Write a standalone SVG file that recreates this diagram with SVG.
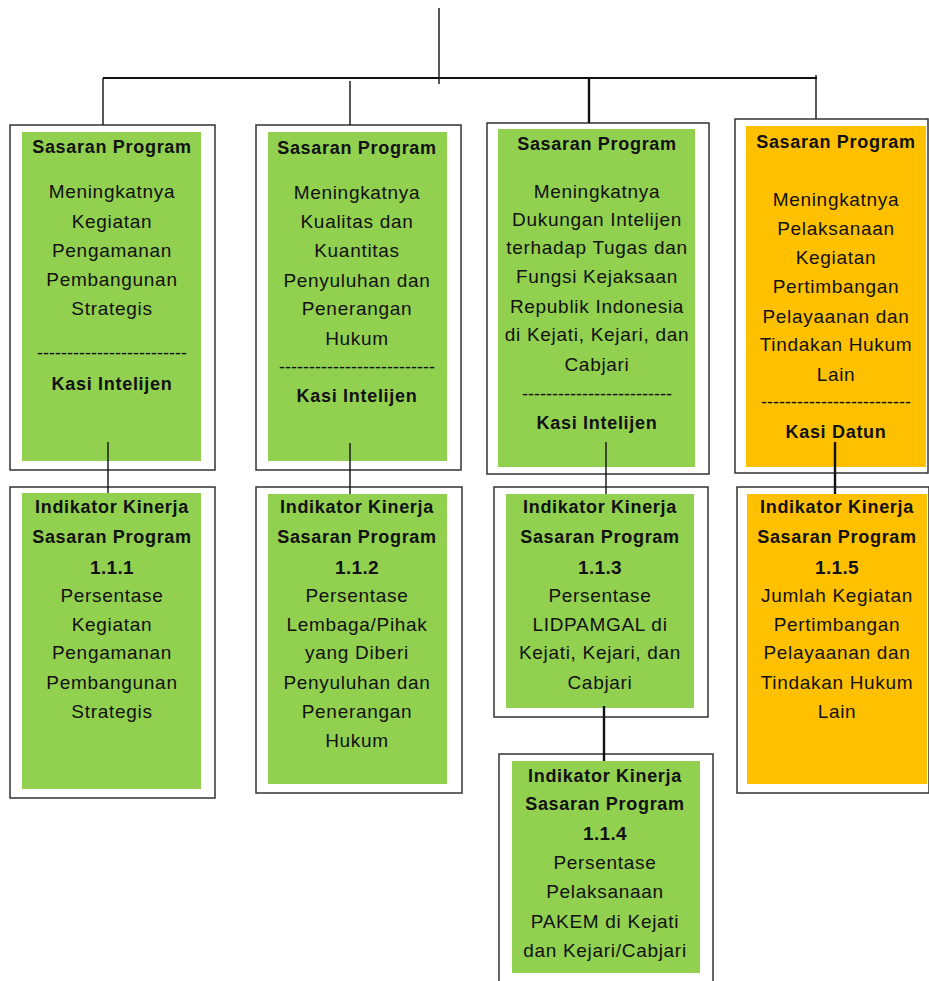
<svg xmlns="http://www.w3.org/2000/svg" width="929" height="981" viewBox="0 0 929 981">
<style>
.frame{fill:#fff;stroke:#333;stroke-width:1.5}
.g{fill:#92D050}
.o{fill:#FFC000}
.t{font-family:"Liberation Sans",Arial,sans-serif;font-size:19px;letter-spacing:0.7px;text-anchor:middle;fill:#111}
.b{font-family:"Liberation Sans",Arial,sans-serif;font-size:18px;font-weight:bold;letter-spacing:0.7px;text-anchor:middle;fill:#111}
.n{font-family:"Liberation Sans",Arial,sans-serif;font-size:19px;font-weight:bold;letter-spacing:0.3px;text-anchor:middle;fill:#111}
.d{font-family:"Liberation Sans",Arial,sans-serif;font-size:18px;letter-spacing:0;text-anchor:middle;fill:#111}
.c{stroke:#111;stroke-width:1.4;fill:none}
.ct{stroke:#111;stroke-width:2.4;fill:none}
</style>
<rect width="929" height="981" fill="#fff"/>

<g id="sp1">
<rect class="frame" x="10" y="125" width="205" height="345"/>
<rect class="g" x="22" y="132" width="179" height="329"/>
<text class="b" x="112" y="153">Sasaran Program</text>
<text class="t" x="112" y="198">Meningkatnya</text>
<text class="t" x="112" y="228">Kegiatan</text>
<text class="t" x="112" y="257">Pengamanan</text>
<text class="t" x="112" y="286">Pembangunan</text>
<text class="t" x="112" y="315">Strategis</text>
<text class="d" x="112" y="359">-------------------------</text>
<text class="b" x="112" y="390">Kasi Intelijen</text>
</g>

<g id="sp2">
<rect class="frame" x="256" y="125" width="205" height="345"/>
<rect class="g" x="268" y="132" width="179" height="329"/>
<text class="b" x="357" y="154">Sasaran Program</text>
<text class="t" x="357" y="199">Meningkatnya</text>
<text class="t" x="357" y="228">Kualitas dan</text>
<text class="t" x="357" y="257">Kuantitas</text>
<text class="t" x="357" y="287">Penyuluhan dan</text>
<text class="t" x="357" y="315">Penerangan</text>
<text class="t" x="357" y="345">Hukum</text>
<text class="d" x="357" y="373">--------------------------</text>
<text class="b" x="357" y="402">Kasi Intelijen</text>
</g>

<g id="sp3">
<rect class="frame" x="487" y="123" width="222" height="351"/>
<rect class="g" x="498" y="129" width="197" height="338"/>
<text class="b" x="597" y="150">Sasaran Program</text>
<text class="t" x="597" y="198">Meningkatnya</text>
<text class="t" x="597" y="226">Dukungan Intelijen</text>
<text class="t" x="597" y="254">terhadap Tugas dan</text>
<text class="t" x="597" y="283">Fungsi Kejaksaan</text>
<text class="t" x="597" y="313">Republik Indonesia</text>
<text class="t" x="597" y="341">di Kejati, Kejari, dan</text>
<text class="t" x="597" y="371">Cabjari</text>
<text class="d" x="597" y="400">-------------------------</text>
<text class="b" x="597" y="429">Kasi Intelijen</text>
</g>

<g id="sp4">
<rect class="frame" x="735" y="119" width="193" height="354"/>
<rect class="o" x="746" y="126" width="180" height="341"/>
<text class="b" x="836" y="148">Sasaran Program</text>
<text class="t" x="836" y="206">Meningkatnya</text>
<text class="t" x="836" y="235">Pelaksanaan</text>
<text class="t" x="836" y="264">Kegiatan</text>
<text class="t" x="836" y="293">Pertimbangan</text>
<text class="t" x="836" y="323">Pelayaanan dan</text>
<text class="t" x="836" y="351">Tindakan Hukum</text>
<text class="t" x="836" y="381">Lain</text>
<text class="d" x="836" y="408">-------------------------</text>
<text class="b" x="836" y="438">Kasi Datun</text>
</g>

<g id="ik111">
<rect class="frame" x="10" y="487" width="205" height="311"/>
<rect class="g" x="22" y="493" width="179" height="296"/>
<text class="b" x="112" y="513">Indikator Kinerja</text>
<text class="b" x="112" y="543">Sasaran Program</text>
<text class="n" x="112" y="574">1.1.1</text>
<text class="t" x="112" y="602">Persentase</text>
<text class="t" x="112" y="631">Kegiatan</text>
<text class="t" x="112" y="659">Pengamanan</text>
<text class="t" x="112" y="689">Pembangunan</text>
<text class="t" x="112" y="718">Strategis</text>
</g>

<g id="ik112">
<rect class="frame" x="256" y="487" width="206" height="306"/>
<rect class="g" x="268" y="494" width="179" height="290"/>
<text class="b" x="357" y="513">Indikator Kinerja</text>
<text class="b" x="357" y="543">Sasaran Program</text>
<text class="n" x="357" y="574">1.1.2</text>
<text class="t" x="357" y="602">Persentase</text>
<text class="t" x="357" y="631">Lembaga/Pihak</text>
<text class="t" x="357" y="659">yang Diberi</text>
<text class="t" x="357" y="689">Penyuluhan dan</text>
<text class="t" x="357" y="718">Penerangan</text>
<text class="t" x="357" y="747">Hukum</text>
</g>

<g id="ik113">
<rect class="frame" x="494" y="487" width="214" height="230"/>
<rect class="g" x="506" y="494" width="188" height="214"/>
<text class="b" x="600" y="513">Indikator Kinerja</text>
<text class="b" x="600" y="543">Sasaran Program</text>
<text class="n" x="600" y="574">1.1.3</text>
<text class="t" x="600" y="602">Persentase</text>
<text class="t" x="600" y="631">LIDPAMGAL di</text>
<text class="t" x="600" y="659">Kejati, Kejari, dan</text>
<text class="t" x="600" y="689">Cabjari</text>
</g>

<g id="ik114">
<rect class="frame" x="499" y="754" width="214" height="240"/>
<rect class="g" x="512" y="761" width="188" height="212"/>
<text class="b" x="605" y="782">Indikator Kinerja</text>
<text class="b" x="605" y="810">Sasaran Program</text>
<text class="n" x="605" y="840">1.1.4</text>
<text class="t" x="605" y="869">Persentase</text>
<text class="t" x="605" y="898">Pelaksanaan</text>
<text class="t" x="605" y="928">PAKEM di Kejati</text>
<text class="t" x="605" y="957">dan Kejari/Cabjari</text>
</g>

<g id="ik115">
<rect class="frame" x="737" y="487" width="192" height="306"/>
<rect class="o" x="747" y="494" width="180" height="290"/>
<text class="b" x="837" y="513">Indikator Kinerja</text>
<text class="b" x="837" y="543">Sasaran Program</text>
<text class="n" x="837" y="574">1.1.5</text>
<text class="t" x="837" y="602">Jumlah Kegiatan</text>
<text class="t" x="837" y="631">Pertimbangan</text>
<text class="t" x="837" y="659">Pelayaanan dan</text>
<text class="t" x="837" y="689">Tindakan Hukum</text>
<text class="t" x="837" y="718">Lain</text>
</g>

<g id="connectors">
<line class="c" x1="439" y1="8" x2="439" y2="84"/>
<line class="c" x1="103" y1="78" x2="817" y2="78" style="stroke-width:2"/>
<line class="c" x1="103" y1="78" x2="103" y2="125"/>
<line class="c" x1="350" y1="81" x2="350" y2="125"/>
<line class="ct" x1="589" y1="77" x2="589" y2="123"/>
<line class="c" x1="816" y1="75" x2="816" y2="119"/>
<line class="c" x1="108" y1="442" x2="108" y2="493"/>
<line class="c" x1="350" y1="443" x2="350" y2="494"/>
<line class="c" x1="606" y1="442" x2="606" y2="494"/>
<line class="ct" x1="835" y1="442" x2="835" y2="494"/>
<line class="ct" x1="604" y1="706" x2="604" y2="761"/>
</g>
</svg>
